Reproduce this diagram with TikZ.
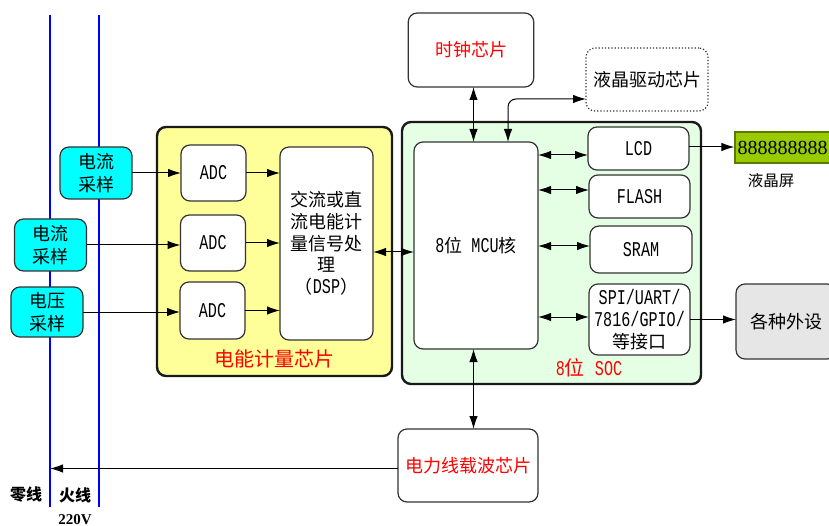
\documentclass[tikz,border=0pt]{standalone}
\usepackage{fontspec}
\setmainfont{Noto Sans CJK SC}
\newfontfamily\latfont[FakeStretch=0.72]{Liberation Mono}
\newfontfamily\serfont{Liberation Serif}
\usetikzlibrary{arrows.meta}
\definecolor{lineblue}{RGB}{0,0,255}
\definecolor{sampcyan}{RGB}{0,255,255}
\definecolor{chipyellow}{RGB}{255,255,153}
\definecolor{socgreen}{RGB}{229,255,229}
\definecolor{perigray}{RGB}{230,230,230}
\definecolor{lcdgreen}{RGB}{153,204,0}
\newcommand{\lat}[1]{{\fontsize{21}{22}\latfont #1}}
\tikzset{
  wh/.style 2 args={minimum width=#1pt,minimum height=#2pt},
  boxbase/.style={draw=black!80,line width=1.2pt,rounded corners=9pt,inner sep=0pt,outer sep=0pt,align=center,font=\fontsize{18}{21.7}\selectfont},
  chipbox/.style={boxbase,fill=white},
  sampbox/.style={boxbase,fill=sampcyan,font=\fontsize{18}{23}\selectfont},
  areabox/.style={boxbase,line width=2.4pt,draw=black!90},
  redtext/.style={text=red,inner sep=0pt,font=\fontsize{20}{22}\selectfont},
  wire/.style={line width=1pt,-{Latex[length=13pt,width=8.5pt]}},
  both/.style={line width=1pt,{Latex[length=13pt,width=8.5pt]}-{Latex[length=13pt,width=8.5pt]}},
  phase/.style={lineblue,line width=2.6pt}
}
\begin{document}
\begin{tikzpicture}[x=1pt,y=-1pt]
      \useasboundingbox (0,0) rectangle (829,526);

      \coordinate (neutraltop) at (50,15);
      \coordinate (neutralend) at (50,507);
      \coordinate (livetop) at (99,15);
      \coordinate (liveend) at (99,507);
      \draw[phase] (neutraltop) -- (neutralend);
      \draw[phase] (livetop) -- (liveend);

      \node[areabox,fill=chipyellow,wh={235}{249}] (meter) at (274.5,251.5) {};
      \node[areabox,fill=socgreen,wh={299}{262}] (soc) at (551.5,253) {};

      \node[sampbox,wh={72}{52}] (cura) at (96,173) {电流\\采样};
      \node[sampbox,wh={72}{52}] (curb) at (50.5,245) {电流\\采样};
      \node[sampbox,wh={72}{50}] (volt) at (47,312) {电压\\采样};

      \node[chipbox,wh={65}{56}] (adca) at (213.5,173) {\lat{ADC}};
      \node[chipbox,wh={65}{56}] (adcb) at (213,243) {\lat{ADC}};
      \node[chipbox,wh={65}{57}] (adcc) at (212.5,310.5) {\lat{ADC}};
      \node[chipbox,wh={93}{193}] (dsp) at (326.5,243.5) {交流或直\\流电能计\\量信号处\\理\\（\lat{DSP}）};
      \node[redtext] (metertext) at (274,359) {电能计量芯片};

      \node[chipbox,wh={124}{207}] (mcu) at (476,245.5) {\lat{8}位\lat{ MCU}核};
      \node[chipbox,wh={101}{43}] (lcd) at (638.5,148.5) {\lat{LCD}};
      \node[chipbox,wh={101}{43}] (flash) at (639.5,196.5) {\lat{FLASH}};
      \node[chipbox,wh={102}{47}] (sram) at (641,249.5) {\lat{SRAM}};
      \node[chipbox,wh={101}{71}] (ifc) at (639.5,319.5) {\lat{SPI/UART/}\\\lat{7816/GPIO/}\\等接口};
      \node[redtext] (soctext) at (589,368) {\lat{8}位\hspace{10pt}\lat{SOC}};

      \node[chipbox,wh={125.5}{74},text=red] (clock) at (471,50) {时钟芯片};
      \node[chipbox,wh={122}{63},dotted] (drv) at (647,79.5) {\textcolor{black}{液晶驱动芯片}};
      \node[chipbox,wh={140}{73},text=red] (plc) at (468,465.5) {电力线载波芯片};
      \node[boxbase,fill=perigray,wh={100}{75}] (peri) at (786,321.5) {各种外设};

      \node[draw=lcdgreen!60!black,line width=1.2pt,fill=lcdgreen,inner sep=0pt,wh={95}{31},font=\fontsize{20}{20}\serfont] (screen) at (782.5,147.5) {888888888};
      \node[font=\fontsize{15.5}{17}\selectfont] (screentext) at (771,181) {液晶屏};

      \node[font=\fontsize{16}{18}\selectfont\bfseries] (neutraltext) at (26,495) {零线};
      \node[font=\fontsize{16}{18}\selectfont\bfseries] (livetext) at (75,495) {火线};
      \node[font=\fontsize{15}{16}\serfont\bfseries,inner sep=0pt] (voltage) at (75,519.5) {220V};

      \coordinate (rowa) at (0,155);
      \coordinate (rowb) at (0,190);
      \coordinate (rowc) at (0,246);
      \coordinate (rowd) at (0,317);
      \coordinate (rowe) at (0,252);
      \coordinate (rowf) at (0,99);
      \coordinate (rowg) at (0,147);
      \coordinate (rowh) at (0,468.5);
      \coordinate (colc) at (473.5,0);
      \coordinate (cold) at (508,0);

      \draw[wire] (cura.east) -- (adca.west);
      \draw[wire] (curb.east) -- (curb.east -| adcb.west);
      \draw[wire] (volt.east) -- (volt.east -| adcc.west);
      \draw[wire] (adca.east) -- (adca.east -| dsp.west);
      \draw[wire] (adcb.east) -- (adcb.east -| dsp.west);
      \draw[wire] (adcc.east) -- (adcc.east -| dsp.west);
      \draw[both] (dsp.east |- rowe) -- (mcu.west |- rowe);
      \draw[both] (clock.south -| colc) -- (mcu.north -| colc);
      \draw[both] (mcu.south -| colc) -- (plc.north -| colc);
      \draw[both,rounded corners=8pt] (mcu.north -| cold) |- (drv.west |- rowf);
      \draw[both] (mcu.east |- rowa) -- (lcd.west |- rowa);
      \draw[both] (mcu.east |- rowb) -- (flash.west |- rowb);
      \draw[both] (mcu.east |- rowc) -- (sram.west |- rowc);
      \draw[both] (mcu.east |- rowd) -- (ifc.west |- rowd);
      \draw[wire] (lcd.east |- rowg) -- (screen.west |- rowg);
      \draw[wire] (ifc.east) -- (ifc.east -| peri.west);
      \draw[wire] (plc.west |- rowh) -- (neutralend |- rowh);
    \end{tikzpicture}
\end{document}
